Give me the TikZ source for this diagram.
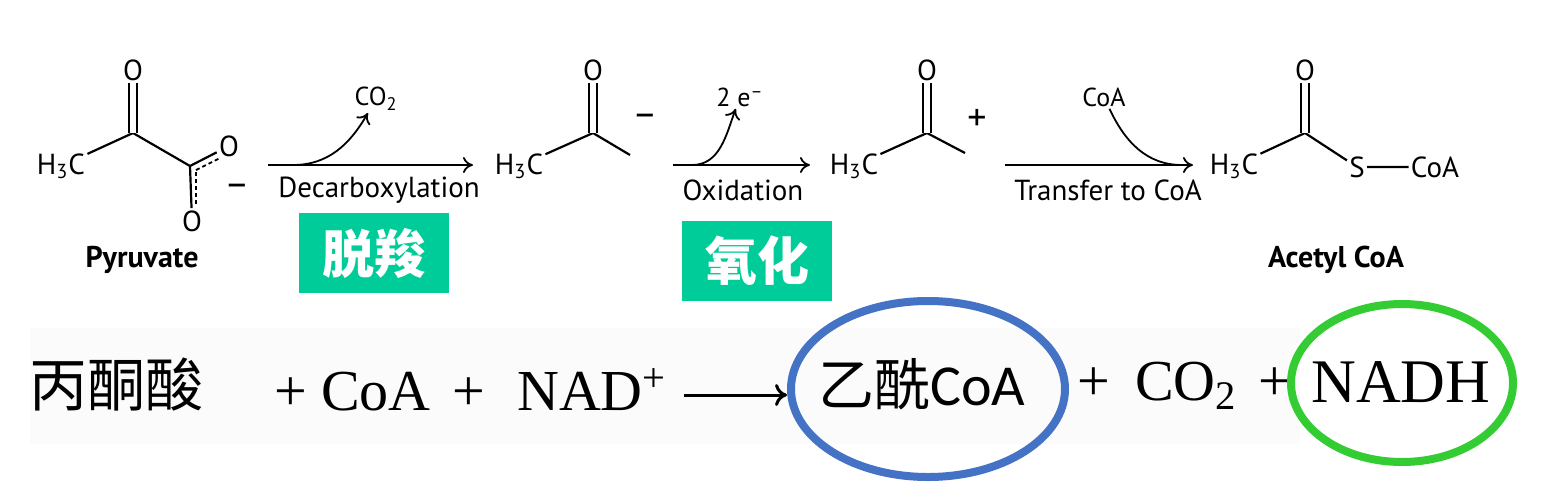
\documentclass[tikz,border=0pt]{standalone}
\usepackage{fontspec}
\setmainfont{PT Sans}
\newfontfamily\cjk{Noto Sans CJK SC}
\newfontfamily\eqserif{Liberation Serif}
\newfontfamily\calib{Carlito}
\usepackage{tikz}
\usetikzlibrary{arrows.meta,calc,shapes.geometric}
\definecolor{tagfill}{HTML}{00CC99}
\definecolor{ringblue}{HTML}{4472C4}
\definecolor{ringgreen}{HTML}{33CC33}
\tikzstyle{atom}=[
  inner sep=1pt, font=\fontsize{14.5}{16}\selectfont
]
\tikzstyle{charge}=[
  inner sep=1pt, font=\fontsize{19}{21}\selectfont
]
\tikzstyle{small}=[
  inner sep=1pt, font=\fontsize{13}{15}\selectfont
]
\tikzstyle{molname}=[
  inner sep=1pt, font=\bfseries\fontsize{15}{17}\selectfont
]
\tikzstyle{bond}=[
  line width=1.1pt
]
\tikzstyle{dbond}=[
  line width=1pt, double, double distance=2.6pt
]
\tikzstyle{halfbond}=[
  line width=0.9pt, dash pattern=on 2pt off 1.5pt
]
\tikzstyle{react}=[
  line width=0.9pt, -{To[length=5pt,width=8pt]}
]
\tikzstyle{tag}=[
  fill=tagfill, text=white, minimum width=75pt, minimum height=40pt,
  font=\cjk\bfseries\fontsize{26}{28}\selectfont
]
\tikzstyle{eqn}=[
  inner sep=0pt, anchor=base, font=\eqserif\fontsize{29}{31}\selectfont
]
\tikzstyle{ring}=[
  draw, ellipse, line width=4pt, inner sep=0pt
]
\tikzset{
  eqarrow/.style={line width=1.5pt, -{To[length=6pt,width=11pt]}},
}

\begin{document}
\begin{tikzpicture}[x=0.5pt,y=-0.5pt]
  \useasboundingbox (0,0) rectangle (1547,483);
  \fill[white] (0,0) rectangle (1547,483);
  \fill[black!1.5] (30,328) rectangle (1300,444);

  % pyruvate
  \node (h3ca) at (61,166) [atom] {H\textsubscript{3}C};
  \coordinate (pa) at (133,133);
  \coordinate (pb) at (190,166);
  \node (oa) at (133,70) [atom] {O};
  \node (ob) at (229,146) [atom] {O};
  \node (oc) at (192,221) [atom] {O};
  \node (mina) at (237,190) [charge] {–};
  \node (pyr) at (142,260) [molname] {Pyruvate};
  \draw[bond] (h3ca) -- (pa) -- (pb);
  \draw[dbond] (pa) -- (oa);
  \draw[bond] (pb) -- (ob);
  \draw[bond] (pb) -- (oc);
  \draw[halfbond] ($(pb)+(6,4)$) -- ($(pb)+(30,-8)$);
  \draw[halfbond] ($(pb)+(6,6)$) -- ($(pb)+(6,40)$);

  % acetyl anion
  \node (h3cb) at (519,166) [atom] {H\textsubscript{3}C};
  \coordinate (ka) at (593,133);
  \coordinate (kae) at (630,155);
  \node (od) at (593,70) [atom] {O};
  \node (minb) at (645,120) [charge] {–};
  \draw[bond] (h3cb) -- (ka) -- (kae);
  \draw[dbond] (ka) -- (od);

  % acetyl cation
  \node (h3cc) at (854,166) [atom] {H\textsubscript{3}C};
  \coordinate (kb) at (927,133);
  \coordinate (kbe) at (965,153);
  \node (oe) at (927,70) [atom] {O};
  \node (plb) at (977,120) [charge] {+};
  \draw[bond] (h3cc) -- (kb) -- (kbe);
  \draw[dbond] (kb) -- (oe);

  % acetyl CoA
  \node (h3cd) at (1234,166) [atom] {H\textsubscript{3}C};
  \coordinate (kc) at (1305,133);
  \node (of) at (1305,70) [atom] {O};
  \node (sa) at (1357,167) [atom] {S};
  \node (coab) at (1435,167) [atom] {CoA};
  \node (acn) at (1336,260) [molname] {Acetyl CoA};
  \draw[bond] (h3cd) -- (kc) -- (sa) -- (coab);
  \draw[dbond] (kc) -- (of);

  % reaction arrows
  \coordinate (r1a) at (268,165);
  \coordinate (r1b) at (473,165);
  \coordinate (r1k) at (293,165);
  \node (co2) at (376,99) [small] {CO\textsubscript{2}};
  \node (dec) at (379,190) [atom] {Decarboxylation};
  \draw[react] (r1a) -- (r1b);
  \draw[react] (r1k) to[out=0,in=-120] (co2);

  \coordinate (r2a) at (673,165);
  \coordinate (r2b) at (810,165);
  \coordinate (r2k) at (692,165);
  \node (elec) at (740,97) [small] {2 e\textsuperscript{–}};
  \node (oxi) at (743,190) [atom] {Oxidation};
  \draw[react] (r2a) -- (r2b);
  \draw[react] (r2k) to[out=0,in=-110] (elec);

  \coordinate (r3a) at (1005,165);
  \coordinate (r3b) at (1193,165);
  \coordinate (r3k) at (1182,165);
  \node (coaa) at (1104,97) [small] {CoA};
  \node (tra) at (1108,190) [atom] {Transfer to CoA};
  \draw[react] (r3a) -- (r3b);
  \draw[line width=0.9pt] (coaa) to[out=-65,in=180] (r3k);

  % tags
  \node (tuo) at (374,253) [tag] {脱羧};
  \node (yang) at (757,261) [tag] {氧化};

  % summary equation
  \node (bing) at (116,406) [eqn, font=\cjk\fontsize{29}{31}\selectfont] {丙酮酸};
  \node (pla) at (291,410) [eqn] {+};
  \node (coa) at (376,410) [eqn] {CoA};
  \node (plc) at (469,410) [eqn] {+};
  \node (nad) at (592,410) [eqn] {NAD\textsuperscript{+}};
  \node (ring1) at (928,389) [ring, draw=ringblue, minimum width=137pt, minimum height=88pt] {};
  \node (acoa) at (922,405) [eqn] {{\cjk\fontsize{28}{30}\selectfont 乙酰}{\calib CoA}};
  \coordinate (q1) at (684,395);
  \draw[eqarrow] (q1) -- (q1 -| ring1.west);
  \node (pld) at (1094,400) [eqn] {+};
  \node (co2b) at (1186,400) [eqn] {CO\textsubscript{2}};
  \node (ple) at (1275,400) [eqn] {+};
  \node (ring2) at (1402,383) [ring, draw=ringgreen, minimum width=111pt, minimum height=79pt] {};
  \node (nadh) at (1401,402) [eqn, font=\eqserif\fontsize{31}{33}\selectfont] {NADH};
\end{tikzpicture}
\end{document}
